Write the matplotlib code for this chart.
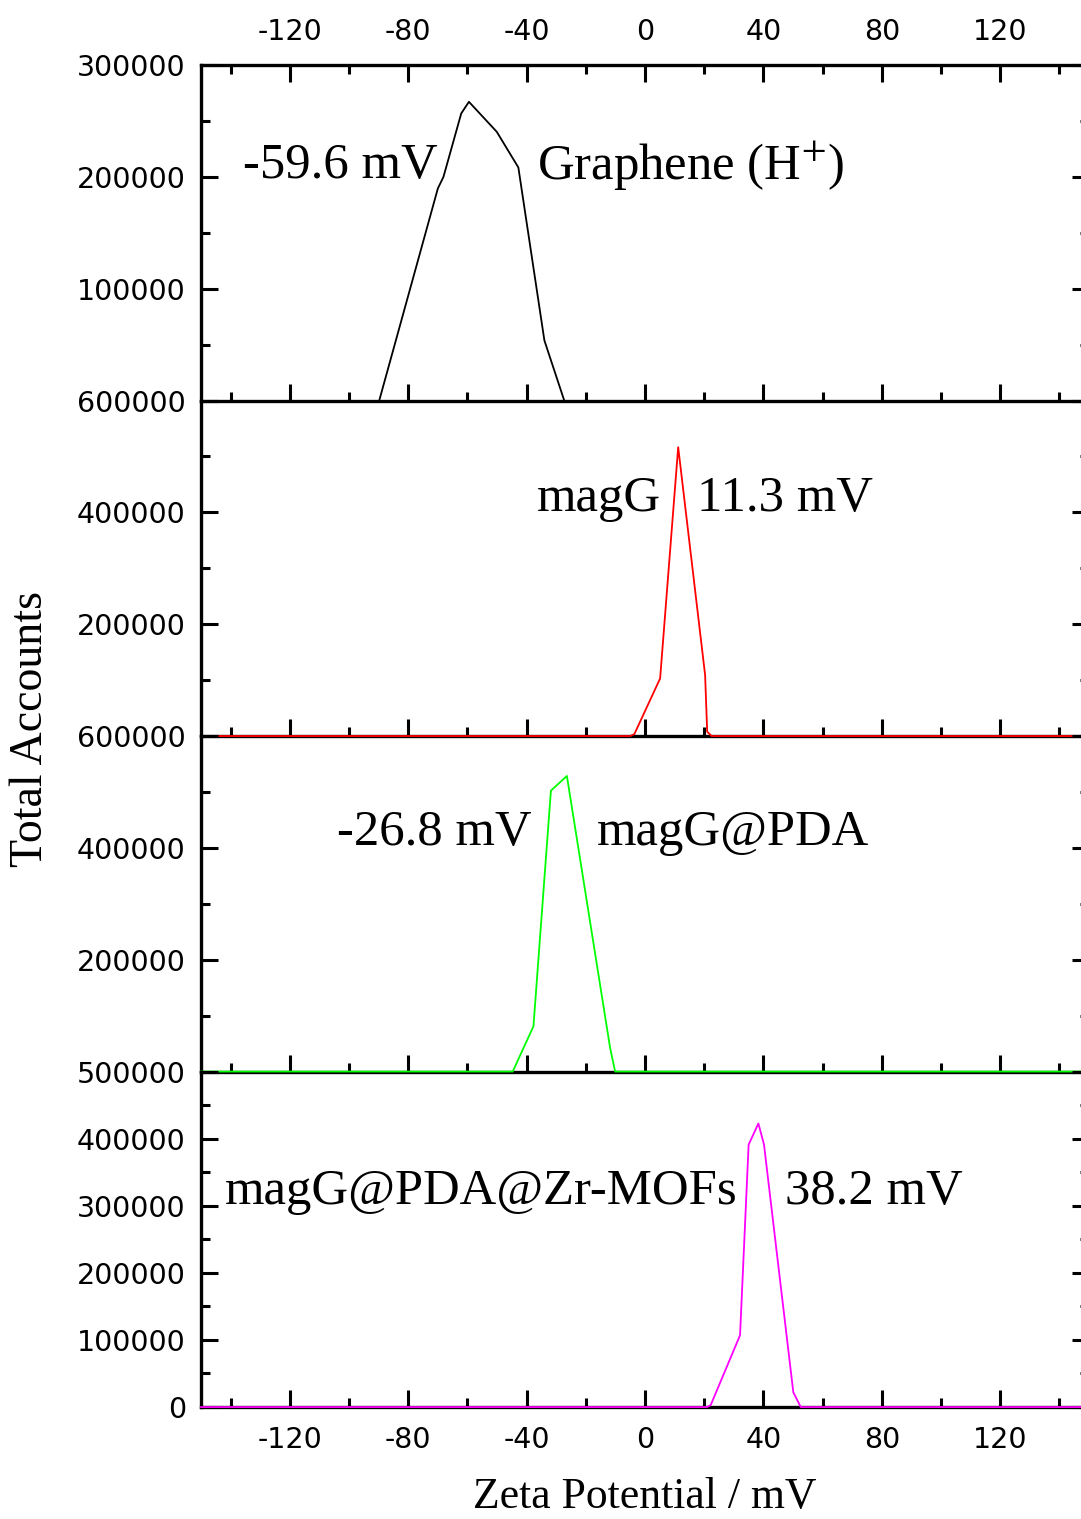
# -*- coding: utf-8 -*-
#
# Zeta potential distributions of four samples, stacked panels
#

import matplotlib
matplotlib.use("Agg")
import matplotlib.pyplot as plt
from matplotlib.ticker import MultipleLocator

#======================================================================================================
### Data
#======================================================================================================
graphene_x = [-89.8, -70.0, -68.1, -62.1, -59.5, -50.1, -42.8, -34.0, -27.3]
graphene_y = [0, 189600, 200000, 256700, 267100, 240300, 208400, 53700, 0]

magg_x = [-150, -5.0, -3.6, 5.1, 11.2, 20.3, 21.0, 22.5, 150]
magg_y = [0, 0, 3500, 103000, 516600, 109000, 7700, 0, 0]

maggpda_x = [-150, -44.7, -37.7, -31.8, -26.4, -11.8, -10.1, 150]
maggpda_y = [0, 0, 80900, 502300, 528600, 42300, 0, 0]

mof_x = [-150, 21.0, 22.2, 32.1, 35.0, 38.3, 40.2, 50.1, 52.6, 150]
mof_y = [0, 0, 3000, 107000, 391000, 422600, 391000, 22000, 0, 0]

series_x = [graphene_x, magg_x, maggpda_x, mof_x]
series_y = [graphene_y, magg_y, maggpda_y, mof_y]
colors = ['black', '#FF0000', '#00FF00', '#FF00FF']

y_max = [300000, 600000, 600000, 500000]
y_major = [100000, 200000, 200000, 100000]

# (text, x, y) per panel
labels = [
    [('-59.6 mV', -136.0, 210000), ('Graphene (H$^{\\mathrm{+}}$)', -36.5, 210000)],
    [('magG', -36.5, 425000), ('11.3 mV', 17.6, 425000)],
    [('-26.8 mV', -104.0, 427000), ('magG@PDA', -16.2, 427000)],
    [('magG@PDA@Zr-MOFs', -141.8, 321000), ('38.2 mV', 47.3, 321000)],
]

x_ticks = [-120, -80, -40, 0, 40, 80, 120]

#======================================================================================================
### Plot
#======================================================================================================
plt.rcParams['mathtext.fontset'] = 'stix'
plt.rcParams['axes.unicode_minus'] = False

fig, axes = plt.subplots(4, 1, sharex=True)
fig.set_size_inches(10.81, 15.19)
fig.subplots_adjust(left=0.186, right=1.0074, bottom=0.0737, top=0.9572, hspace=0)

serif = 'Liberation Serif'
tick_font = 'DejaVu Sans'

for i, ax in enumerate(axes):
    ax.set_facecolor('none')
    ax.plot(series_x[i], series_y[i], color=colors[i], lw=1.3, zorder=3, clip_on=False)

    ax.set_xlim(-150, 150)
    ax.set_ylim(0, y_max[i])

    for s in ax.spines.values():
        s.set_linewidth(2.4)
    ax.spines['top'].set_visible(i == 0)

    ax.xaxis.set_minor_locator(MultipleLocator(20))
    ax.set_xticks(x_ticks)

    ticks = list(range(0, y_max[i] + 1, y_major[i]))
    ticklabels = [str(t) for t in ticks]
    if i < 3:
        ticklabels[0] = ''
    ax.set_yticks(ticks, ticklabels)
    ax.yaxis.set_minor_locator(MultipleLocator(y_major[i] / 2))

    ax.tick_params(which='both', direction='in', width=2.2, left=True, right=True,
                   bottom=True, top=(i == 0), labeltop=(i == 0), labelbottom=(i == 3))
    ax.tick_params(which='major', length=12)
    ax.tick_params(which='minor', length=6.5)
    ax.tick_params(axis='y', pad=11, labelsize=20.5)
    ax.tick_params(axis='x', pad=14, labelsize=20.5)
    for lab in ax.get_xticklabels() + ax.get_yticklabels():
        lab.set_fontfamily(tick_font)

    for txt, tx, ty in labels[i]:
        ax.text(tx, ty, txt, fontsize=36.5, family=serif, ha='left', va='center', zorder=4)

axes[3].set_xlabel('Zeta Potential / mV', fontsize=31.5, family=serif, labelpad=16)
fig.text(0.028, 0.52, 'Total Accounts', rotation=90, fontsize=33, family=serif,
         ha='center', va='center')

fig.savefig('out.png', dpi=100)
